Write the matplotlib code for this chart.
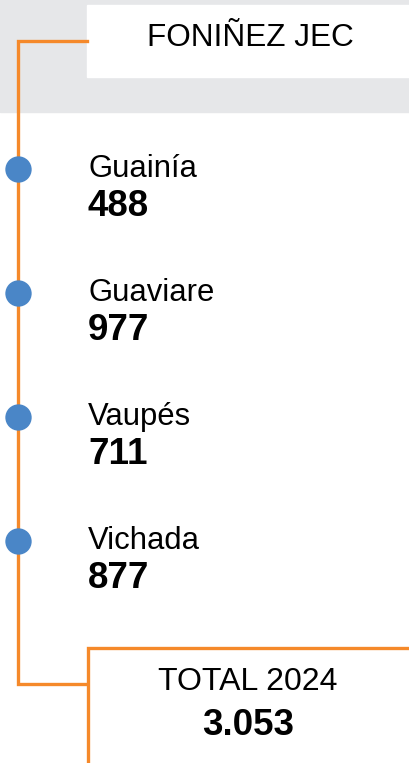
import matplotlib.pyplot as plt
from matplotlib.patches import Rectangle

titulo = "FONIÑEZ JEC"
departamentos = ["Guainía", "Guaviare", "Vaupés", "Vichada"]
valores = [488, 977, 711, 877]
anio = 2024

naranja = "#f5892a"
azul = "#4a86c7"
gris = "#e6e7e9"

plt.rcParams['font.family'] = ['Liberation Sans', 'DejaVu Sans']

fig = plt.figure(figsize=(4.09, 7.63), dpi=100)
ax = fig.add_axes([0, 0, 1, 1])
ax.set_xlim(0, 409)
ax.set_ylim(763, 0)
ax.axis('off')

# cabecera gris con caja blanca
ax.add_patch(Rectangle((0, 0), 409, 112, color=gris, zorder=0))
ax.add_patch(Rectangle((87, 5), 330, 72, color='white', zorder=1))
ax.text(250, 45.5, titulo, fontsize=22.7, ha='center', va='baseline', zorder=3)

# linea de tiempo
x_linea = 17.5
y_ini, y_fin = 41, 684
ax.plot([87, x_linea, x_linea, 88], [y_ini, y_ini, y_fin, y_fin],
        color=naranja, lw=2.4, solid_joinstyle='miter', zorder=2)

y0, paso = 169, 124
for i, (dep, val) in enumerate(zip(departamentos, valores)):
    y = y0 + i * paso
    ax.scatter([x_linea], [y], s=360, color=azul, zorder=4, linewidths=0)
    ax.text(88, y + 8, dep, fontsize=22.3, ha='left', va='baseline')
    ax.text(88, y + 47, f"{val:,}".replace(",", "."), fontsize=26.5,
            fontweight='bold', ha='left', va='baseline')

# caja total
ax.add_patch(Rectangle((88, 648), 340, 140, facecolor='white',
                       edgecolor=naranja, lw=2.4, zorder=3))
total = sum(valores)
ax.text(248, 690, f"TOTAL {anio}", fontsize=23, ha='center', va='baseline', zorder=5)
ax.text(248, 735, f"{total:,}".replace(",", "."), fontsize=26.5,
        fontweight='bold', ha='center', va='baseline', zorder=5)

fig.savefig('out.png', dpi=100)
